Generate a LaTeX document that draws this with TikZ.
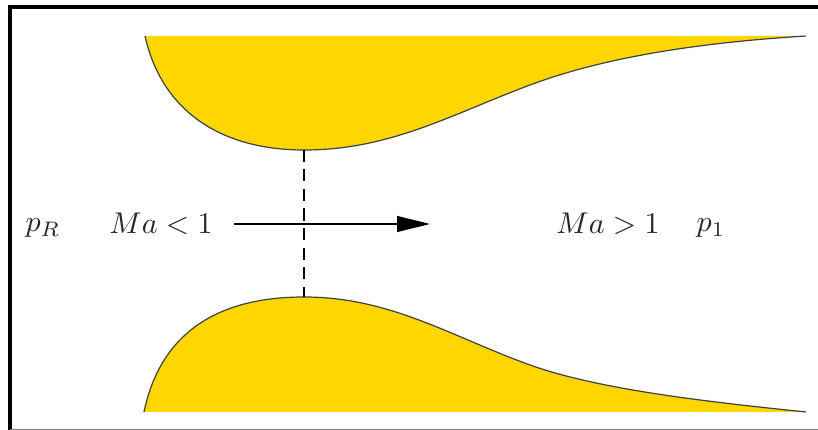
\documentclass[tikz,border=0pt]{standalone}
\usepackage{amsmath, amssymb}
\usetikzlibrary{arrows.meta}
\definecolor{nozzle}{RGB}{255,214,0}
\begin{document}
\begin{tikzpicture}[x=0.3333pt, y=-0.3333pt, >=Stealth,
    wall/.style={draw=black!75, line width=0.4pt},
    label/.style={inner sep=0pt, text=black!85}]
      \useasboundingbox (0,0) rectangle (818,430);
      \draw[line width=1.2pt, line cap=rect] (818,7) -- (10,7) -- (10,430);
      \draw[line width=0.3pt, black!50] (10,429.5) -- (818,429.5);

      \coordinate (up) at (304,150);
      \coordinate (low) at (304,297);
      \coordinate (in) at (234,224);
      \coordinate (out) at (430,224);

      % nozzle walls
      \fill[nozzle] (145,36) .. controls (162,112) and (222,150) .. (up)
        .. controls (390,150) and (450,115) .. (530,85)
        .. controls (610,55) and (710,42) .. (806,36) -- cycle;
      \draw[wall] (145,36) .. controls (162,112) and (222,150) .. (up)
        .. controls (390,150) and (450,115) .. (530,85)
        .. controls (610,55) and (710,42) .. (806,36);
      \fill[nozzle] (144,412) .. controls (160,335) and (215,297) .. (low)
        .. controls (390,297) and (450,336) .. (530,365)
        .. controls (600,390) and (710,402) .. (806,412) -- cycle;
      \draw[wall] (144,412) .. controls (160,335) and (215,297) .. (low)
        .. controls (390,297) and (450,336) .. (530,365)
        .. controls (600,390) and (710,402) .. (806,412);

      \draw[line width=0.5pt, dash pattern=on 4pt off 2.5pt] (up) -- (low);
      \draw[->, >={Stealth[length=11pt, width=5.3pt, inset=0pt]}, line width=0.45pt] (in) -- (out);

      \node[label] (pr) at (43,228) {$p_R$};
      \node[label] (masub) at (161,224) {$Ma<1$};
      \node[label] (masup) at (608,224) {$Ma>1$};
      \node[label] (pa) at (711,228) {$p_1$};
    \end{tikzpicture}
\end{document}
